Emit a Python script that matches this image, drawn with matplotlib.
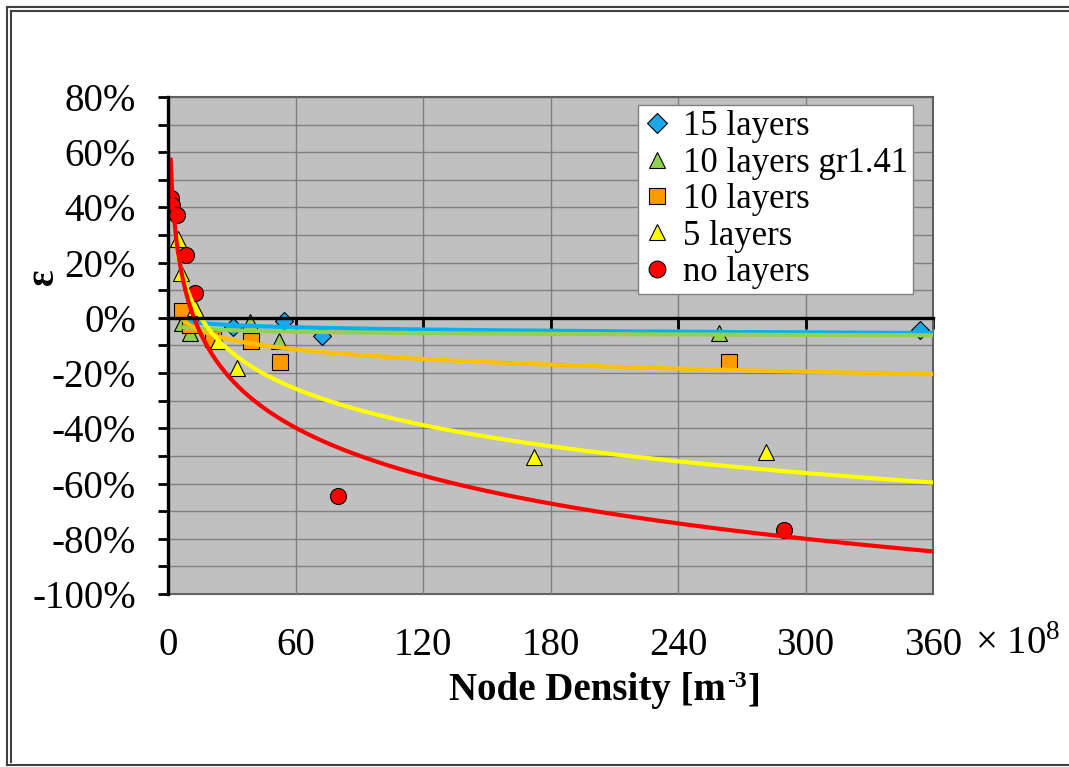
import numpy as np
import matplotlib
matplotlib.use("Agg")
import matplotlib.pyplot as plt
from matplotlib.lines import Line2D
from matplotlib.ticker import MultipleLocator, FuncFormatter

plt.rcParams["font.family"] = ["Liberation Serif", "DejaVu Serif"]
plt.rcParams["mathtext.fontset"] = "custom"
plt.rcParams["mathtext.rm"] = "Liberation Serif"
plt.rcParams["mathtext.bf"] = "Liberation Serif:bold"

# Node density in units of 1e8 m^-3, error epsilon in percent
x_15 = [9.6, 30.4, 54.8, 72.7, 354.0]
y_15 = [-0.5, -3.4, -1.3, -6.6, -4.5]

x_10gr = [6.4, 10.4, 38.8, 52.0, 259.5]
y_10gr = [-2.0, -5.3, -1.6, -8.5, -5.3]

x_10 = [6.8, 10.4, 21.4, 39.2, 52.9, 264.2]
y_10 = [2.5, -2.6, -7.8, -8.5, -16.0, -15.8]

x_5 = [4.5, 6.0, 12.8, 23.4, 32.7, 172.0, 281.6]
y_5 = [28.5, 16.1, 3.5, -8.5, -18.3, -50.3, -48.4]

x_no = [1.2, 2.1, 4.0, 8.7, 12.5, 80.2, 290.0]
y_no = [43.4, 40.8, 37.2, 22.7, 8.9, -64.4, -76.7]

series = [
    ("15 layers", x_15, y_15, "D", "#1AA8E8", "#00B0F0"),
    ("10 layers gr1.41", x_10gr, y_10gr, "^", "#92D050", "#92D050"),
    ("10 layers", x_10, y_10, "s", "#FF9900", "#FFC000"),
    ("5 layers", x_5, y_5, "^", "#FFFF00", "#FFFF00"),
    ("no layers", x_no, y_no, "o", "#FF0000", "#FF0000"),
]
marker_sizes = {"D": 9.5, "^": 11.5, "s": 11, "o": 11.5}

X_MAX = 360

W, H = 1069, 767
fig = plt.figure(figsize=(W / 100, H / 100), dpi=100)
fig.patch.set_facecolor("white")

left, right, bottom, top = 168, 933, 594, 97
ax = fig.add_axes([left / W, (H - bottom) / H, (right - left) / W, (bottom - top) / H])
ax.set_facecolor("#C0C0C0")
ax.set_xlim(0, X_MAX)
ax.set_ylim(-100, 80)

# grid
ax.xaxis.set_major_locator(MultipleLocator(60))
ax.yaxis.set_major_locator(MultipleLocator(20))
ax.yaxis.set_minor_locator(MultipleLocator(10))
ax.grid(True, which="both", axis="y", color="#808080", lw=1.0, zorder=0)
ax.grid(True, which="major", axis="x", color="#808080", lw=1.0, zorder=0)
ax.set_axisbelow(True)

handles = []
for name, xs, ys, mk, mc, lc in series:
    h, = ax.plot(xs, ys, linestyle="none", marker=mk, ms=marker_sizes[mk],
                 mfc=mc, mec="black", mew=0.8, zorder=3, label=name)
    handles.append(h)

# logarithmic trendlines fitted to each series
for name, xs, ys, mk, mc, lc in series:
    b, a = np.polyfit(np.log(xs), ys, 1)
    xt = np.linspace(min(xs), X_MAX, 600)
    ax.plot(xt, a + b * np.log(xt), color=lc, lw=3.0, zorder=4, solid_capstyle="butt")

# spines
for s in ("top", "right"):
    ax.spines[s].set_color("#606060")
    ax.spines[s].set_linewidth(1.5)
ax.spines["left"].set_color("black")
ax.spines["left"].set_linewidth(2.4)
ax.spines["left"].set_zorder(5)
ax.spines["bottom"].set_position(("data", 0))
ax.spines["bottom"].set_color("black")
ax.spines["bottom"].set_linewidth(2.4)
ax.spines["bottom"].set_zorder(5)

ax.tick_params(axis="x", which="major", direction="out", length=8, width=2,
               labelbottom=False, color="black")
ax.tick_params(axis="y", which="both", direction="out", length=7, width=2,
               labelsize=28, pad=16, color="black")
ax.yaxis.set_major_formatter(FuncFormatter(lambda v, p: f"{v:.0f}%"))

# tick labels and plot-area frame along the bottom edge
sec = ax.secondary_xaxis("bottom")
sec.set_xticks([0, 60, 120, 180, 240, 300, 360])
sec.tick_params(axis="x", length=0, labelsize=28, pad=24)
sec.spines["bottom"].set_color("#606060")
sec.spines["bottom"].set_linewidth(1.5)

fig.text(975 / W, 1 - 645 / H, r"$\times$ 10$^{8}$", fontsize=28, ha="left", va="center")

# axis titles
fig.text(44 / W, 1 - 277 / H, "ε", fontsize=28, fontweight="bold",
         rotation=90, ha="center", va="center")

renderer = fig.canvas.get_renderer()
lbl_y = 1 - 700 / H
t1 = fig.text(0, lbl_y, "Node Density [m", fontsize=28, fontweight="bold",
              ha="left", va="baseline")
t2 = fig.text(0, lbl_y, "-3", fontsize=17, fontweight="bold", ha="left", va="baseline")
t3 = fig.text(0, lbl_y, "]", fontsize=28, fontweight="bold", ha="left", va="baseline")
w1 = t1.get_window_extent(renderer).width
w2 = t2.get_window_extent(renderer).width
w3 = t3.get_window_extent(renderer).width
x0 = 604 - (w1 + w2 + w3) / 2
t1.set_x(x0 / W)
t2.set_x((x0 + w1 + 1) / W)
t2.set_y(lbl_y + 13 / H)
t3.set_x((x0 + w1 + w2 + 2) / W)

leg = ax.legend(handles=handles, loc="upper right",
                bbox_to_anchor=((913 - left) / (right - left), (bottom - 105) / (bottom - top)),
                fontsize=25, frameon=True, fancybox=False, framealpha=1,
                edgecolor="#808080", borderpad=0.15, labelspacing=0.1,
                handlelength=0.8, handletextpad=0.35, borderaxespad=0,
                markerscale=1.05)
leg.get_frame().set_linewidth(1.0)
leg.set_zorder(6)

# outer chart frame (double line)
frame_kw = dict(transform=None, color="#404040", lw=1.5)
def fline(xs, ys):
    fig.add_artist(Line2D(xs, [H - y for y in ys], **frame_kw))
fline([7, 7], [7, 765])
fline([7, W], [7, 7])
fline([7, W], [765, 765])
fline([10.5, 10.5], [10.5, 762])
fline([10.5, W], [10.5, 10.5])

fig.savefig("out.png", dpi=100, facecolor="white")
